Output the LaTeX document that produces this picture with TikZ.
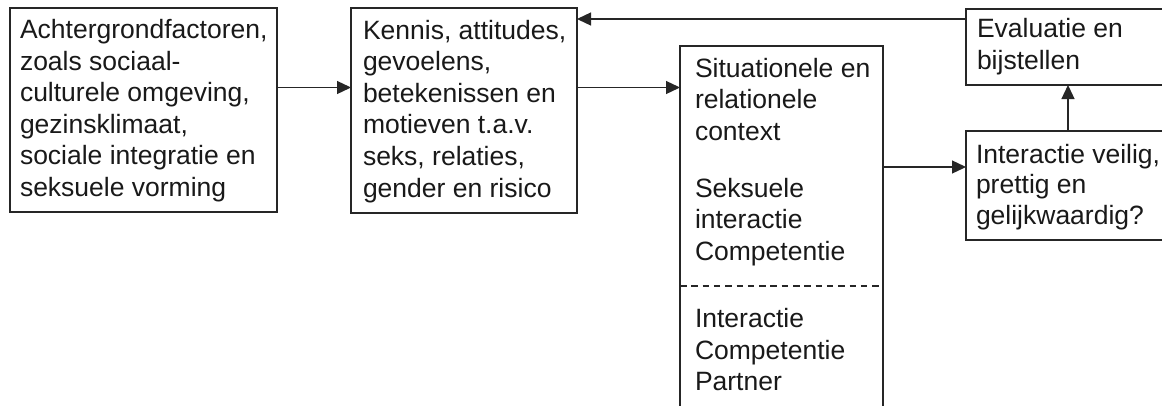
\documentclass[tikz,border=0pt]{standalone}
\usepackage{fontspec}
\setmainfont{Liberation Sans}
\usetikzlibrary{arrows.meta}
\newcommand\boxlines[1]{\parbox[t]{300pt}{\raggedright #1}}
\tikzset{
  frame/.style={draw=black!85, line width=1.3pt, rectangle, anchor=north west, inner sep=0pt, outer sep=0pt},
  txt/.style={anchor=base west, inner sep=0pt, outer sep=0pt, text=black!90, font=\fontsize{26.5}{31.6}\selectfont},
  arr/.style={draw=black!85, line width=1.3pt, -{Triangle[length=14pt,width=13pt]}},
  sep/.style={draw=black!85, line width=1.1pt, dash pattern=on 6.5pt off 4.8pt}
}
\begin{document}
\begin{tikzpicture}[x=1pt,y=-1pt]
\useasboundingbox (0,0) rectangle (1162,405);
\clip (0,0) rectangle (1162,405);
\fill[white] (0,0) rectangle (1162,405);
% boxes
\node[frame, minimum width=267pt, minimum height=204pt] (b1) at (10,8) {};
\node[frame, minimum width=226pt, minimum height=205pt] (b2) at (351,8) {};
\node[frame, minimum width=203pt, minimum height=380pt] (b3) at (680,46) {};
\node[frame, minimum width=220pt, minimum height=76pt] (b4) at (966,9) {};
\node[frame, minimum width=220pt, minimum height=109pt] (b5) at (966,131) {};
\draw[sep] (b3.west |- 0,286) -- (b3.east |- 0,286);
% texts
\node[txt] (t1) at (20,38.5) {\boxlines{Achtergrondfactoren,\\zoals sociaal-\\culturele omgeving,\\gezinsklimaat,\\sociale integratie en\\seksuele vorming}};
\node[txt] (t2) at (363,39) {\boxlines{Kennis, attitudes,\\gevoelens,\\betekenissen en\\motieven t.a.v.\\seks, relaties,\\gender en risico}};
\node[txt] (t3a) at (695,77.3) {\boxlines{Situationele en\\relationele\\context\\[25pt]Seksuele\\interactie\\Competentie}};
\node[txt] (t3b) at (695,327.5) {\boxlines{Interactie\\Competentie\\Partner}};
\node[txt] (t4) at (977,37.8) {\boxlines{Evaluatie en\\bijstellen}};
\node[txt, font=\fontsize{26.5}{30.5}\selectfont] (t5) at (976,163.3) {\boxlines{Interactie veilig,\\prettig en\\gelijkwaardig?}};
% connector levels
\coordinate (yA) at (0,87.5);
\coordinate (yB) at (0,167);
\coordinate (yC) at (0,19);
\coordinate (xD) at (1068,0);
% connectors
\draw[arr] (b1.east |- yA) -- (b2.west |- yA);
\draw[arr] (b2.east |- yA) -- (b3.west |- yA);
\draw[arr] (b3.east |- yB) -- (b5.west |- yB);
\draw[arr] (b5.north -| xD) -- (b4.south -| xD);
\draw[arr] (b4.west |- yC) -- (b2.east |- yC);
\end{tikzpicture}
\end{document}
